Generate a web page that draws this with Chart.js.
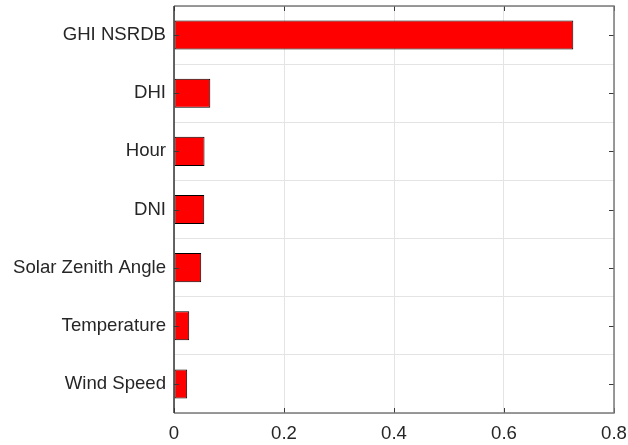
<!DOCTYPE html>
<html>
<head>
<meta charset="utf-8">
<script src="https://cdn.jsdelivr.net/npm/chart.js@4.4.1/dist/chart.umd.min.js"></script>
<style>
  html, body { margin: 0; padding: 0; background: #fff; }
  #wrap { width: 628px; height: 445px; position: relative; }
</style>
</head>
<body>
<div id="wrap"><canvas id="chart" width="628" height="445"></canvas></div>
<script>
// Feature importance, top to bottom
const features = ["GHI NSRDB", "DHI", "Hour", "DNI", "Solar Zenith Angle", "Temperature", "Wind Speed"];
const importance = [0.726, 0.066, 0.0555, 0.055, 0.0495, 0.0277, 0.024];
const xTicks = [0, 0.2, 0.4, 0.6, 0.8];

const FONT = { family: "Arial, 'Liberation Sans', Helvetica, sans-serif", size: 18.6 };
const TEXT = "#262626";

// Boxed axes with inward tick marks on all four sides
const boxAxes = {
  id: "boxAxes",
  afterDatasetsDraw(chart) {
    const { ctx, chartArea: a, scales: { x, y } } = chart;
    const len = 5;
    ctx.save();
    ctx.strokeStyle = "#3a3a3a";
    ctx.lineWidth = 1;
    ctx.beginPath();
    xTicks.forEach(v => {
      const px = Math.round(x.getPixelForValue(v)) + 0.5;
      ctx.moveTo(px, a.bottom); ctx.lineTo(px, a.bottom - len);
      ctx.moveTo(px, a.top); ctx.lineTo(px, a.top + len);
    });
    features.forEach((f, i) => {
      const py = Math.round(y.getPixelForValue(i)) + 0.5;
      ctx.moveTo(a.left, py); ctx.lineTo(a.left + len, py);
      ctx.moveTo(a.right, py); ctx.lineTo(a.right - len, py);
    });
    ctx.stroke();
    // top, right and bottom edges in gray
    ctx.strokeStyle = "#7a7a7a";
    ctx.lineWidth = 1.5;
    ctx.beginPath();
    ctx.moveTo(a.left, a.top); ctx.lineTo(a.right, a.top);
    ctx.lineTo(a.right, a.bottom); ctx.lineTo(a.left, a.bottom);
    ctx.stroke();
    // left edge darker
    ctx.strokeStyle = "#333333";
    ctx.beginPath();
    ctx.moveTo(a.left, a.top); ctx.lineTo(a.left, a.bottom);
    ctx.stroke();
    ctx.restore();
  }
};

new Chart(document.getElementById("chart"), {
  type: "bar",
  data: {
    labels: features,
    datasets: [{
      data: importance,
      backgroundColor: "#ff0000",
      borderColor: "#000000",
      borderWidth: 1,
      borderSkipped: false,
      categoryPercentage: 1.0,
      barPercentage: 0.5
    }]
  },
  options: {
    indexAxis: "y",
    responsive: false,
    animation: false,
    devicePixelRatio: 1,
    layout: { padding: { top: 6, right: 14, bottom: 0, left: 0 } },
    plugins: { legend: { display: false }, tooltip: { enabled: false } },
    scales: {
      x: {
        min: 0, max: 0.8,
        afterBuildTicks(scale) { scale.ticks = xTicks.map(v => ({ value: v })); },
        afterFit(scale) { scale.height = 32; scale.paddingLeft = 0; scale.paddingRight = 0; },
        grid: { color: "#e4e4e4", drawTicks: false },
        border: { display: false },
        ticks: { color: TEXT, font: FONT, padding: 10, maxRotation: 0,
                 callback: v => String(v) }
      },
      y: {
        afterFit(scale) { scale.width = 174; scale.paddingTop = 0; scale.paddingBottom = 0; },
        grid: { color: "#e4e4e4", drawTicks: false },
        border: { display: false },
        ticks: { color: TEXT, font: FONT, padding: 8 }
      }
    }
  },
  plugins: [boxAxes]
});
</script>
</body>
</html>
